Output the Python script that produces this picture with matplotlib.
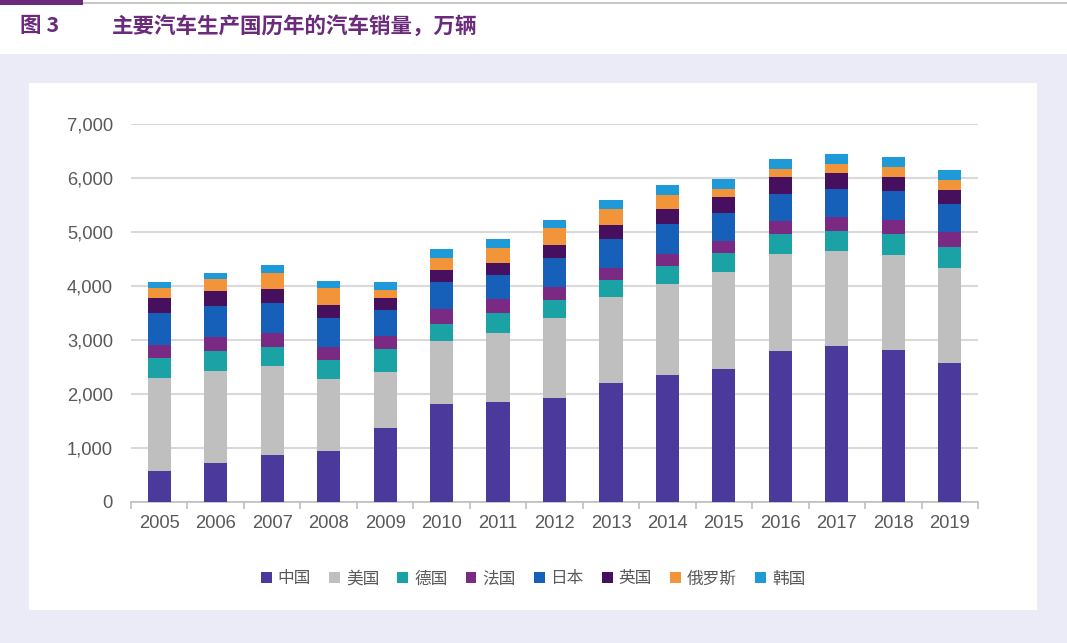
import matplotlib
matplotlib.use("Agg")
import matplotlib.pyplot as plt
from matplotlib.patches import Rectangle, Patch
import numpy as np

plt.rcParams['font.family'] = ['Liberation Sans', 'Noto Sans CJK SC', 'DejaVu Sans']

years = ["2005", "2006", "2007", "2008", "2009", "2010", "2011", "2012",
         "2013", "2014", "2015", "2016", "2017", "2018", "2019"]
series_names = ["中国", "美国", "德国", "法国", "日本", "英国", "俄罗斯", "韩国"]
china   = [570, 720, 879, 938, 1364, 1806, 1851, 1931, 2198, 2349, 2460, 2803, 2888, 2808, 2577]
usa     = [1730, 1703, 1648, 1333, 1042, 1180, 1285, 1476, 1593, 1686, 1797, 1796, 1760, 1760, 1759]
germany = [360, 376, 352, 352, 421, 315, 363, 339, 315, 338, 352, 370, 376, 401, 389]
france  = [254, 254, 259, 254, 246, 278, 267, 235, 222, 212, 222, 241, 248, 247, 272]
japan   = [580, 580, 543, 524, 476, 500, 431, 531, 542, 566, 524, 500, 530, 542, 524]
uk      = [290, 272, 272, 241, 222, 222, 222, 247, 260, 272, 296, 309, 290, 254, 259]
russia  = [180, 217, 296, 314, 154, 216, 278, 315, 290, 260, 143, 154, 167, 185, 185]
korea   = [117, 116, 135, 130, 154, 160, 167, 148, 167, 185, 185, 185, 185, 185, 185]
yticks = [0, 1000, 2000, 3000, 4000, 5000, 6000, 7000]

series = [china, usa, germany, france, japan, uk, russia, korea]
colors = ["#4B3A9C", "#BFBFBF", "#1BA2A4", "#7A2A82", "#1660BA", "#46105E", "#F2953A", "#1E9AD8"]

W, H = 1067, 643
fig = plt.figure(figsize=(W / 100, H / 100), dpi=100)
fig.patch.set_facecolor("#EBEAF7")

def fr(x0, y0, x1, y1, color, z=0):
    fig.patches.append(Rectangle((x0 / W, 1 - y1 / H), (x1 - x0) / W, (y1 - y0) / H,
                                 transform=fig.transFigure, facecolor=color,
                                 edgecolor="none", zorder=z))

# header
fr(0, 0, W, 54, "white")
fr(83, 2, W, 4, "#C8C8C8", 1)
fr(0, 0, 83, 5, "#6B2A7B", 2)
# white panel
fr(29, 83, 1037, 610, "white")

purple = "#6B2A7B"
fig.text(20 / W, 1 - 26 / H, "图 3", fontsize=15.5, fontweight="bold", color=purple,
         va="center", ha="left", family=["Noto Sans CJK SC", "DejaVu Sans"])
fig.text(112 / W, 1 - 26 / H, "主要汽车生产国历年的汽车销量，万辆", fontsize=15.5,
         fontweight="bold", color=purple, va="center", ha="left",
         family=["Noto Sans CJK SC", "DejaVu Sans"])

ax = fig.add_axes([131 / W, 1 - 502 / H, (978 - 131) / W, (502 - 124) / H])
ax.set_zorder(5)
ax.set_facecolor("none")
x = np.arange(len(years))
bottom = np.zeros(len(years))
for vals, c, name in zip(series, colors, series_names):
    ax.bar(x, vals, bottom=bottom, width=0.41, color=c, label=name, zorder=3)
    bottom += np.array(vals)

ax.set_xlim(-0.5, len(years) - 0.5)
ax.set_ylim(0, 7000)
ax.set_yticks(yticks)
ax.set_yticklabels([f"{v:,}" for v in yticks])
ax.yaxis.grid(True, color="#D9D9D9", linewidth=1.5, zorder=0)
ax.set_axisbelow(True)
for s in ["top", "right", "left"]:
    ax.spines[s].set_visible(False)
ax.spines["bottom"].set_color("#BFBFBF")
ax.spines["bottom"].set_linewidth(1.2)
ax.tick_params(axis="y", length=0, pad=13, labelsize=13.2, labelcolor="#595959")
ax.set_xticks(x)
ax.set_xticklabels(years)
ax.tick_params(axis="x", length=0, pad=9.5, labelsize=13.2, labelcolor="#595959")
ax.set_xticks(np.arange(-0.5, len(years), 1), minor=True)
ax.tick_params(axis="x", which="minor", length=5, color="#BFBFBF", width=1.2)

handles = [Patch(facecolor=c, edgecolor="none") for c in colors]
leg = fig.legend(handles, series_names, loc="center", bbox_to_anchor=(533 / W, 1 - 579 / H),
                 ncol=8, frameon=False, handlelength=0.65, handleheight=0.65,
                 handletextpad=0.35, columnspacing=1.1,
                 prop={"family": ["Noto Sans CJK SC", "DejaVu Sans"], "size": 12},
                 labelcolor="#595959")
leg.set_zorder(6)

fig.savefig("out.png", dpi=100, facecolor=fig.get_facecolor())
